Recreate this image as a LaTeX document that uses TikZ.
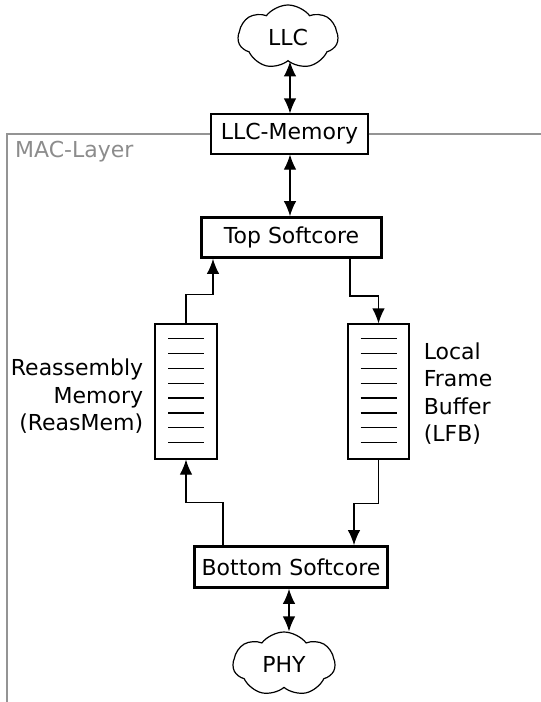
\documentclass[tikz,border=0pt]{standalone}
\usepackage{fontspec}
\setmainfont{DejaVu Sans}
\usetikzlibrary{shapes.symbols,arrows.meta,calc}
\begin{document}
\begin{tikzpicture}[x=1pt,y=-1pt,
  every node/.style={font=\fontsize{22}{27.5}\selectfont, inner sep=0pt},
  box/.style={draw=black, line width=1.2pt, fill=white},
  thickbox/.style={draw=black, line width=2.8pt, fill=white},
  buf/.style={draw=black, line width=1.2pt},
  sky/.style={cloud, draw=black, line width=1.2pt, cloud puffs=7, cloud puff arc=105, aspect=1.5, inner sep=0pt},
  conn/.style={line width=1.2pt, -{Latex[length=15pt,width=12.5pt]}},
  dconn/.style={line width=1.2pt, {Latex[length=15pt,width=12.5pt]}-{Latex[length=15pt,width=12.5pt]}},
  frame/.style={draw=black!42, line width=1.2pt}]
\useasboundingbox (0,0) rectangle (541,702);

\node[sky, minimum width=100pt, minimum height=64pt] (llc) at (288,37) {LLC};
\node[box, minimum width=157pt, minimum height=40pt] (llcmem) at (289.5,134) {LLC-Memory};
\node[thickbox, minimum width=180pt, minimum height=40pt] (top) at (291.5,237.5) {Top Softcore};
\node[buf, minimum width=62pt, minimum height=135pt] (reas) at (186,391.5) {};
\node[buf, minimum width=61pt, minimum height=135pt] (lfb) at (378.5,391.5) {};
\node[thickbox, minimum width=193pt, minimum height=41pt] (bot) at (291,567) {Bottom Softcore};
\node[sky, minimum width=102pt, minimum height=64pt] (phy) at (284,664) {PHY};

% MAC layer frame
\draw[frame] (llcmem.west) -- (7,134) -- (7,702);
\draw[frame] (llcmem.east) -- (541,134);
\node[text=black!45, anchor=base west] (mac) at (15,157) {MAC-Layer};

% buffer lines
\foreach \i in {0,...,7} {
  \draw[line width=1.2pt] ($(reas.north)+(-18,15+14.9*\i)$) -- ++(36,0);
  \draw[line width=1.2pt] ($(lfb.north)+(-18,15+14.9*\i)$) -- ++(36,0);
}

% labels
\node[align=right, anchor=east] (reaslbl) at ($(reas.west)+(-11,5)$) {Reassembly\\Memory\\(ReasMem)};
\node[align=left, anchor=west] (lfblbl) at ($(lfb.east)+(14,2)$) {Local\\Frame\\Buffer\\(LFB)};

% connectors
\coordinate (a1) at (290,0);
\draw[dconn] (llc.south -| a1) -- (llcmem.north -| a1);
\draw[dconn] (llcmem.south -| a1) -- (top.north -| a1);

\coordinate (tl) at ($(top.south)+(-78.5,0)$);
\coordinate (tr) at ($(top.south)+(58.5,0)$);
\draw[conn] (reas.north) -- ++(0,-29) -| (tl);
\draw[conn] (tr) -- ++(0,37) -| (lfb.north);

\coordinate (bl) at ($(bot.north)+(-68,0)$);
\coordinate (br) at ($(bot.north)+(63,0)$);
\draw[conn] (bl) -- ++(0,-43) -| (reas.south);
\draw[conn] (lfb.south) -- ++(0,44) -| (br);

\coordinate (a2) at (289,0);
\draw[dconn] (bot.south -| a2) -- (phy.north -| a2);
\end{tikzpicture}
\end{document}
